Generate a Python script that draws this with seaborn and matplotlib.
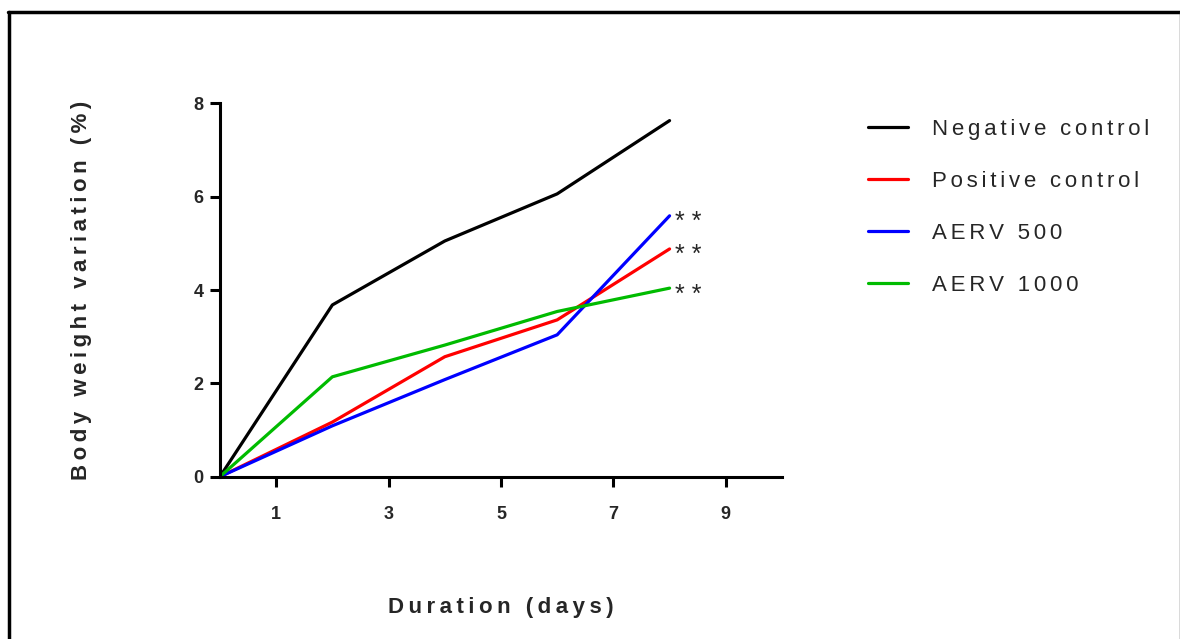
import pandas as pd
import matplotlib
matplotlib.use("Agg")
import matplotlib.pyplot as plt
import seaborn as sns

# data
days = [0, 2, 4, 6, 8]
negative_control = [0, 3.68, 5.05, 6.06, 7.63]
positive_control = [0, 1.17, 2.57, 3.36, 4.88]
aerv_500 = [0, 1.09, 2.08, 3.04, 5.59]
aerv_1000 = [0, 2.14, 2.82, 3.54, 4.04]
groups = ["Negative control", "Positive control", "AERV 500", "AERV 1000"]
colors = ["#000000", "#ff0000", "#0000ff", "#00bb00"]
signif = ["", "**", "**", "**"]
x_ticks = [1, 3, 5, 7, 9]
y_ticks = [0, 2, 4, 6, 8]

sns.set_style("ticks")
plt.rcParams['font.family'] = ['Liberation Sans', 'DejaVu Sans']


def spaced(s, sep="\u2009"):
    return sep.join(s)


series = [negative_control, positive_control, aerv_500, aerv_1000]
df = pd.concat([pd.DataFrame({"day": days, "value": v, "group": g})
                for g, v in zip(groups, series)], ignore_index=True)

fig = plt.figure(figsize=(11.8, 6.39), dpi=100)
ax = fig.add_axes([0.1864, 0.254, 0.4763, 0.5843])

sns.lineplot(data=df, x="day", y="value", hue="group", hue_order=groups,
             palette=colors, linewidth=2.3, ax=ax, legend=False)

ax.set_xlim(0, 10)
ax.set_ylim(0, 8)
ax.set_xticks(x_ticks)
ax.set_yticks(y_ticks)
ax.set_xticklabels([str(t) for t in x_ticks], fontsize=13, fontweight='bold')
ax.set_yticklabels([str(t) for t in y_ticks], fontsize=13, fontweight='bold')
ax.tick_params(axis='both', length=7, width=2.2, color='black')
ax.tick_params(axis='x', pad=14)
ax.tick_params(axis='y', pad=5)
for side in ['left', 'bottom']:
    ax.spines[side].set_linewidth(2.2)
    ax.spines[side].set_color('black')
sns.despine(ax=ax)

ax.set_xlabel(spaced("Duration (days)"), fontsize=16, fontweight='bold', labelpad=0)
ax.xaxis.set_label_coords(0.5, -0.323)
ax.set_ylabel(spaced("Body weight variation (%)"), fontsize=16, fontweight='bold')
ax.yaxis.set_label_coords(-0.228, 0.5)

# significance marks next to the last point
for g, v, s in zip(groups, series, signif):
    if s:
        ax.text(days[-1] + 0.1, v[-1] - 0.29, " ".join(s), fontsize=18,
                ha='left', va='baseline')

# legend
handles = [plt.Line2D([], [], color=c, linewidth=2.3) for c in colors]
fig.legend(handles, [spaced(g, "\u2006") for g in groups], loc='upper left',
           bbox_to_anchor=(0.719, 0.845), frameon=False, fontsize=16,
           handlelength=1.8, handletextpad=1.04, labelspacing=1.39)

# outer frame (thick left/top, thin grey right)
fig.add_artist(plt.Line2D([9 / 1180, 9 / 1180], [0, 1 - 12 / 639],
                          transform=fig.transFigure, color='black', linewidth=2.5))
fig.add_artist(plt.Line2D([8 / 1180, 1179.5 / 1180], [1 - 12 / 639, 1 - 12 / 639],
                          transform=fig.transFigure, color='black', linewidth=2.5))
fig.add_artist(plt.Line2D([1179.5 / 1180, 1179.5 / 1180], [0, 1 - 12 / 639],
                          transform=fig.transFigure, color='#444444', linewidth=1.0))

fig.savefig("out.png", dpi=100)
